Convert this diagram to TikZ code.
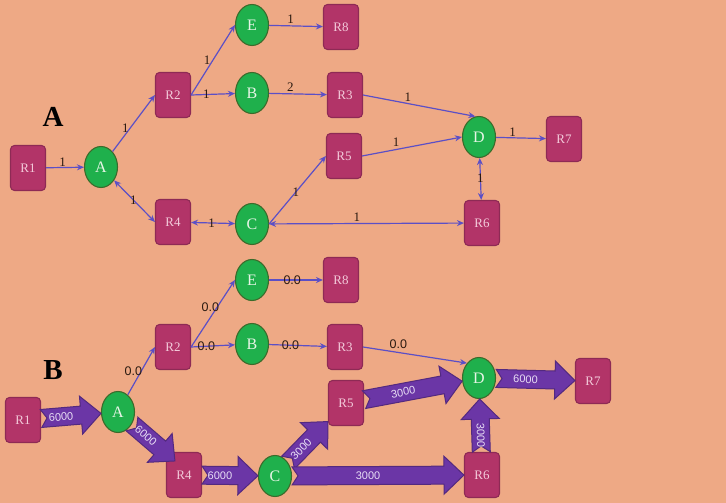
\documentclass[tikz,border=0pt]{standalone}
\usepackage{fontspec}
\setmainfont{Liberation Serif}
\setsansfont{Liberation Sans}
\usetikzlibrary{calc,arrows.meta,shapes.geometric}
\definecolor{bg}{HTML}{EEA985}
\definecolor{rfill}{HTML}{B23468}
\definecolor{rborder}{HTML}{8E2A55}
\definecolor{rtext}{HTML}{F3CADA}
\definecolor{cfill}{HTML}{1FB04C}
\definecolor{cborder}{HTML}{3B6B2B}
\definecolor{ctext}{HTML}{E6F5E6}
\definecolor{lineblue}{HTML}{5B4FC6}
\definecolor{fatfill}{HTML}{6B36A6}
\definecolor{fatborder}{HTML}{53297F}
\definecolor{fattext}{HTML}{E8DDF5}
\definecolor{labcol}{HTML}{2B1A10}
\newcommand\fatarrow[3]{%
  \path (#1) -- (#2) coordinate[pos=0] (fs) coordinate[pos=1] (ft);
  \coordinate (fh) at ($(ft)!20pt!(fs)$);
  \filldraw[fat] ($(fs)!9pt!90:(ft)$) -- ($(fh)!9pt!90:(ft)$) -- ($(fh)!19pt!90:(ft)$) -- (ft)
    -- ($(fh)!19pt!-90:(ft)$) -- ($(fh)!9pt!-90:(ft)$) -- ($(fs)!9pt!-90:(ft)$) -- ($(fs)!6pt!(ft)$) -- cycle;
  \path (fs) -- (fh) node[fatlab, midway, sloped] {#3};
}
\begin{document}
\begin{tikzpicture}[x=1pt,y=-1pt,
  rnode/.style={draw=rborder, fill=rfill, rounded corners=4pt, minimum width=35pt, minimum height=45pt,
    inner sep=0pt, line width=1.1pt, text=rtext, font=\fontsize{13}{13}\selectfont},
  cnode/.style={ellipse, draw=cborder, fill=cfill, minimum width=33pt, minimum height=41pt,
    inner sep=0pt, line width=1.1pt, text=ctext, font=\fontsize{16}{16}\selectfont},
  thin/.style={draw=lineblue, line width=1.2pt, -{Stealth[length=7pt,width=6pt]}},
  both/.style={draw=lineblue, line width=1.2pt, {Stealth[length=7pt,width=6pt]}-{Stealth[length=7pt,width=6pt]}},
  lab/.style={font=\fontsize{13}{13}\selectfont, text=labcol, inner sep=0pt},
  labs/.style={font=\sffamily\fontsize{12.5}{12.5}\selectfont, text=labcol, inner sep=0pt},
  fat/.style={fill=fatfill, draw=fatborder, line width=1pt, line join=miter},
  fatlab/.style={font=\sffamily\fontsize{11}{11}\selectfont, text=fattext, inner sep=0pt},
  big/.style={font=\bfseries\fontsize{29}{29}\selectfont, text=black, inner sep=0pt}]
\fill[bg] (0,0) rectangle (726,503);
\useasboundingbox (0,0) rectangle (726,503);

% ---------------- Part A ----------------
\node[big] (labA) at (53,117) {A};
\node[rnode] (aR1) at (28,168) {R1};
\node[cnode] (aA) at (101,167) {A};
\node[rnode] (aR2) at (173,95) {R2};
\node[cnode] (aE) at (252,25) {E};
\node[cnode] (aB) at (252,93) {B};
\node[rnode] (aR8) at (341,27) {R8};
\node[rnode] (aR3) at (345,95) {R3};
\node[rnode] (aR5) at (344,156) {R5};
\node[rnode] (aR4) at (173,222) {R4};
\node[cnode] (aC) at (252,224) {C};
\node[cnode] (aD) at (479,137) {D};
\node[rnode] (aR7) at (564,139) {R7};
\node[rnode] (aR6) at (482,223) {R6};

\draw[thin] (aR1) -- node[lab, pos=0.44, yshift=5pt] {1} (aA);
\draw[thin] (aA) -- node[lab, pos=0.42, xshift=-5pt] {1} (aR2.west);
\draw[thin] (aR2.east) -- node[lab, pos=0.5, xshift=-6pt] {1} (aE.west);
\draw[thin] (aR2.east) -- node[lab, pos=0.35] {1} (aB);
\draw[thin] (aE) -- node[lab, pos=0.4, yshift=7pt] {1} (aR8);
\draw[thin] (aB) -- node[lab, pos=0.37, yshift=7pt] {2} (aR3);
\draw[thin] (aR3.east) -- node[lab, pos=0.4, yshift=6pt] {1} (aD.100);
\draw[thin] (aR5.east) -- node[lab, pos=0.34, yshift=7pt] {1} (aD.west);
\draw[thin] (aD) -- node[lab, pos=0.33, yshift=6pt] {1} (aR7);
\draw[both] (aD) -- node[lab, pos=0.48] {1} (aR6);
\draw[both] (aA) -- node[lab, pos=0.47] {1} (aR4.west);
\draw[both] (aR4) -- node[lab, pos=0.47] {1} (aC);
\draw[thin] (aC.east) -- node[lab, pos=0.47] {1} (aR5.west);
\draw[both] (aC) -- node[lab, pos=0.45, yshift=6pt] {1} (aR6);

% ---------------- Part B ----------------
\node[big] (labB) at (53,370) {B};
\node[rnode] (bR1) at (23,420) {R1};
\node[cnode] (bA) at (118,412) {A};
\node[rnode] (bR2) at (173,347) {R2};
\node[cnode] (bE) at (252,280) {E};
\node[cnode] (bB) at (252,344) {B};
\node[rnode] (bR8) at (341,280) {R8};
\node[rnode] (bR3) at (345,347) {R3};
\node[rnode] (bR5) at (346,403) {R5};
\node[rnode] (bR4) at (184,475) {R4};
\node[cnode] (bC) at (275,476) {C};
\node[cnode] (bD) at (479,378) {D};
\node[rnode] (bR7) at (593,381) {R7};
\node[rnode] (bR6) at (482,475) {R6};
\coordinate (bR4in) at ($(bR4.north west)+(9,9)$);

\draw[thin] (bA) -- node[labs, pos=0.5, xshift=-8pt] {0.0} (bR2.west);
\draw[thin] (bR2.east) -- node[labs, pos=0.6, xshift=-7pt] {0.0} (bE.west);
\draw[thin] (bR2.east) -- node[labs, pos=0.35] {0.0} (bB);
\draw[thin] (bE) -- node[labs, pos=0.43] {0.0} (bR8);
\draw[thin] (bB) -- node[labs, pos=0.37] {0.0} (bR3);
\draw[thin] (bR3.east) -- node[labs, pos=0.34, yshift=8pt] {0.0} (bD.north west);

\fatarrow{bR1}{bA}{6000}
\fatarrow{bA}{bR4in}{6000}
\fatarrow{bR4}{bC}{6000}
\fatarrow{bC}{bR5}{3000}
\fatarrow{bC}{bR6}{3000}
\fatarrow{bR5}{bD}{3000}
\fatarrow{bR6}{bD}{3000}
\fatarrow{bD}{bR7}{6000}
\end{tikzpicture}
\end{document}
